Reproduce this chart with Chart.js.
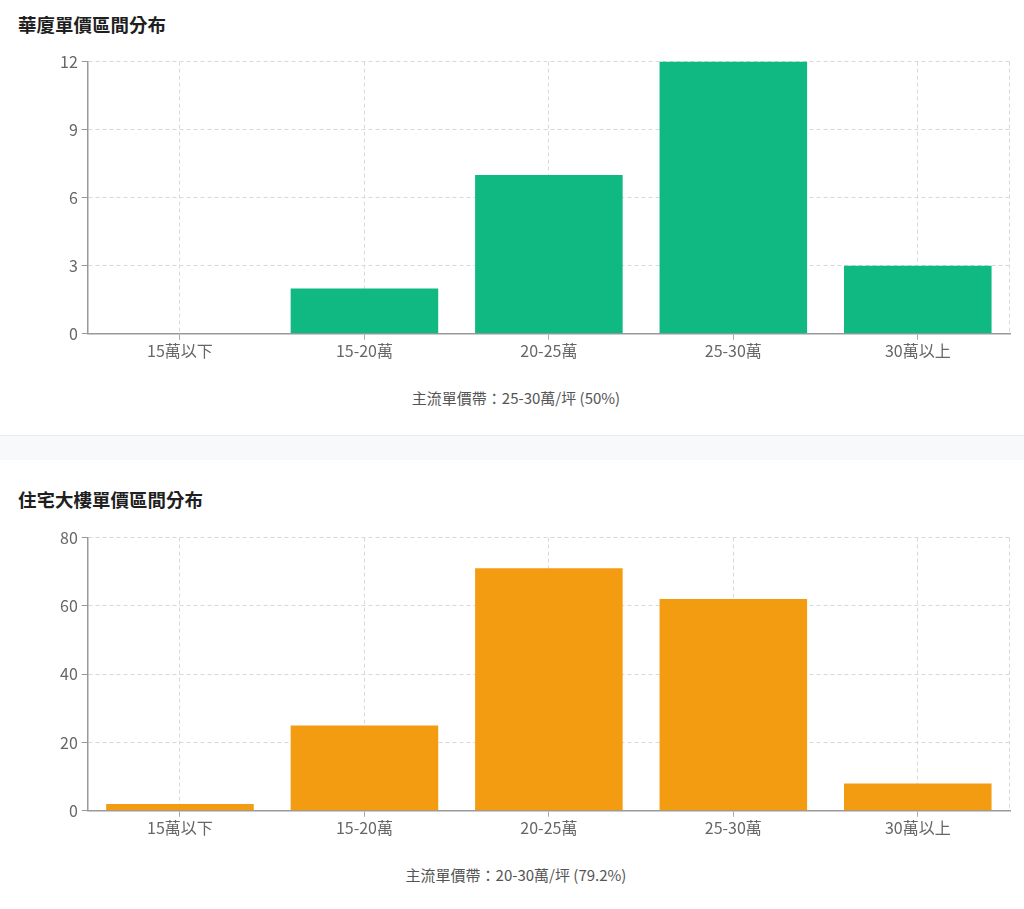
<!DOCTYPE html>
<html lang="zh-Hant">
<head>
<meta charset="utf-8">
<title>單價區間分布</title>
<script src="https://cdn.jsdelivr.net/npm/chart.js@4.4.1/dist/chart.umd.min.js"></script>
<style>
    html, body { margin: 0; padding: 0; background: #fff; }
    body { width: 1024px; height: 909px; overflow: hidden; font-family: "Noto Sans CJK TC", "Noto Sans", sans-serif; }
    .card { position: relative; background: #fff; }
    .card h3 { position: absolute; left: 18px; margin: 0; font-size: 18.5px; font-weight: 700; color: #1f1f1f; line-height: 1; }
    .chart-box { position: absolute; left: 0; width: 1024px; }
    .note { position: absolute; left: 0; width: 1032px; text-align: center; font-size: 15px; color: #555; line-height: 1; }
    .gap { height: 24px; background: #f8f9fa; border-top: 1px solid #ececec; }
</style>
</head>
<body>
<div class="card" style="height:435px">
    <h3 style="top:15px">華廈單價區間分布</h3>
    <div class="chart-box" style="top:48px;height:315px"><canvas id="office-chart"></canvas></div>
    <div class="note" style="top:390px">主流單價帶：25-30萬/坪 (50%)</div>
</div>
<div class="gap"></div>
<div class="card" style="height:449px">
    <h3 style="top:30px">住宅大樓單價區間分布</h3>
    <div class="chart-box" style="top:64px;height:316px"><canvas id="tower-chart"></canvas></div>
    <div class="note" style="top:407px">主流單價帶：20-30萬/坪 (79.2%)</div>
</div>
<script>
// price bands (萬/坪)
var priceBands = ['15萬以下', '15-20萬', '20-25萬', '25-30萬', '30萬以上'];
var officeCounts = [0, 2, 7, 12, 3];
var towerCounts = [2, 25, 71, 62, 8];
var officeTicks = [0, 3, 6, 9, 12];
var towerTicks = [0, 20, 40, 60, 80];

Chart.defaults.font.family = '"Noto Sans CJK TC", "Noto Sans", sans-serif';
Chart.defaults.font.size = 16;
Chart.defaults.color = '#666';

// dashed line closing the plot on the right side
var rightEdge = {
    id: 'rightEdge',
    beforeDatasetsDraw: function(chart) {
        var c = chart.ctx, a = chart.chartArea;
        c.save();
        c.strokeStyle = '#d9d9d9';
        c.lineWidth = 1;
        c.setLineDash([4, 3]);
        c.beginPath();
        c.moveTo(a.right - 0.5, a.top);
        c.lineTo(a.right - 0.5, a.bottom);
        c.stroke();
        c.restore();
    }
};

function makeChart(id, counts, ticks, color) {
    var ctx = document.getElementById(id).getContext('2d');
    return new Chart(ctx, {
        type: 'bar',
        data: {
            labels: priceBands,
            datasets: [{
                data: counts,
                backgroundColor: color,
                borderWidth: 0,
                barPercentage: 0.8,
                categoryPercentage: 1.0
            }]
        },
        options: {
            responsive: true,
            maintainAspectRatio: false,
            animation: false,
            layout: { padding: { left: 56, right: 14, top: 3, bottom: 0 } },
            plugins: { legend: { display: false }, tooltip: { enabled: false } },
            scales: {
                x: {
                    grid: { offset: false, color: '#d9d9d9', tickColor: '#aaa', tickBorderDash: [], tickLength: 6 },
                    border: { color: '#999', width: 1.5, dash: [4, 3] },
                    ticks: { color: '#666', padding: 2 }
                },
                y: {
                    min: ticks[0],
                    max: ticks[ticks.length - 1],
                    afterBuildTicks: function(axis) {
                        axis.ticks = ticks.map(function(v) { return { value: v }; });
                    },
                    grid: { color: '#d9d9d9', tickColor: '#999', tickBorderDash: [], tickLength: 6 },
                    border: { color: '#999', width: 1.5, dash: [4, 3] },
                    ticks: { color: '#666', padding: 4 }
                }
            }
        },
        plugins: [rightEdge]
    });
}

var officeChart = makeChart('office-chart', officeCounts, officeTicks, '#10b981');
var towerChart = makeChart('tower-chart', towerCounts, towerTicks, '#f39c12');
</script>
</body>
</html>
